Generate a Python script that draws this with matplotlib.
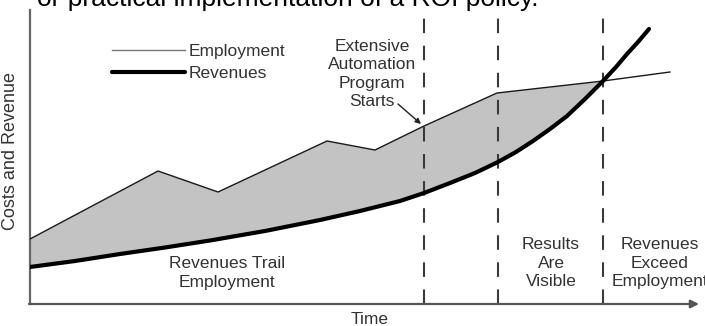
import numpy as np
import matplotlib.pyplot as plt

plt.rcParams['font.family'] = ['Liberation Sans', 'DejaVu Sans']

# values (time units along x, cost units along y)
employment_t = [0, 128, 188, 297, 345, 394, 467, 573, 640]
employment_v = [65, 133, 112, 163, 154, 178, 211, 223, 232]

revenue_t = [0, 45, 90, 135, 180, 235, 290, 330, 370, 394, 420, 445, 468,
             486, 503, 520, 537, 555, 573, 586, 597, 608, 619]
revenue_v = [37, 43, 50, 56.5, 63.5, 73, 84, 93, 103, 111, 121, 131, 142,
             152, 163, 175, 188, 205, 223, 237, 250, 262, 275]

phase_marks = [394, 468, 573]
crossing_t = 573

series_labels = ['Employment', 'Revenues']
phase_labels = ['Revenues Trail\nEmployment', 'Results\nAre\nVisible',
                'Revenues\nExceed\nEmployment']
phase_label_pos = [(197, 31), (521, 41), (630, 41)]
text_color = '#333333'
fs = 12.5


def main():
    fig = plt.figure(figsize=(7.05, 3.26), dpi=100)
    ax = fig.add_axes([30 / 705, 22 / 326, 667 / 705, 294 / 326])
    ax.set_xlim(0, 667)
    ax.set_ylim(0, 294)
    ax.axis('off')

    # shaded gap between employment and revenues up to the crossing
    emp_t = np.array(employment_t)
    emp_v = np.array(employment_v)
    rev_t = np.array(revenue_t)
    rev_v = np.array(revenue_v)
    keep_e = emp_t <= crossing_t
    keep_r = rev_t <= crossing_t
    poly_t = np.concatenate([emp_t[keep_e], rev_t[keep_r][::-1]])
    poly_v = np.concatenate([emp_v[keep_e], rev_v[keep_r][::-1]])
    ax.fill(poly_t, poly_v, color='#c3c3c3', lw=0, zorder=1)

    ax.vlines(phase_marks, 0, 291, colors='#3a3a3a', lw=1.5,
              linestyles=(0, (7, 6)), zorder=2)

    ax.plot(employment_t, employment_v, color='#1a1a1a', lw=1.0,
            label=series_labels[0], zorder=3)
    ax.plot(revenue_t, revenue_v, color='black', lw=3.0,
            solid_capstyle='round', solid_joinstyle='round',
            label=series_labels[1], zorder=4)

    # axes drawn by hand: plain vertical line, arrow along time
    ax.plot([0, 0], [0, 294], color='#666666', lw=1.6, clip_on=False)
    ax.annotate('', xy=(669, 0), xytext=(-1, 0),
                arrowprops=dict(arrowstyle='-|>', color='#555555', lw=1.6,
                                mutation_scale=12, shrinkA=0, shrinkB=0),
                annotation_clip=False)

    leg = ax.legend(loc='upper left', bbox_to_anchor=(73 / 667, 269 / 294),
                    frameon=False, handlelength=4.2, handletextpad=0.25,
                    labelspacing=0.4, fontsize=fs, borderpad=0)
    for t in leg.get_texts():
        t.set_color(text_color)
    leg.get_lines()[0].set_color('#777777')

    ax.text(342, 230, 'Extensive\nAutomation\nProgram\nStarts', ha='center',
            va='center', fontsize=fs, color=text_color, linespacing=1.3)
    ax.annotate('', xy=(391, 180), xytext=(368, 200),
                arrowprops=dict(arrowstyle='-|>', color='#222222', lw=1.0,
                                mutation_scale=8, shrinkA=0, shrinkB=0))

    for label, (tx, ty) in zip(phase_labels, phase_label_pos):
        ax.text(tx, ty, label, ha='center', va='center', fontsize=fs,
                color=text_color, linespacing=1.3, clip_on=False)

    ax.text(340, -16, 'Time', ha='center', va='center', fontsize=fs,
            color=text_color, clip_on=False)
    ax.text(-19, 153, 'Costs and Revenue', ha='center', va='center',
            rotation=90, fontsize=13, color=text_color, clip_on=False)

    # caption from the page, cut off by the top edge
    fig.text(37 / 705, 1 - 6 / 326, 'or practical implementation of a ROI policy.',
             ha='left', va='baseline', fontsize=19, color='black')

    fig.savefig('out.png', dpi=100)


if __name__ == "__main__":
    main()
